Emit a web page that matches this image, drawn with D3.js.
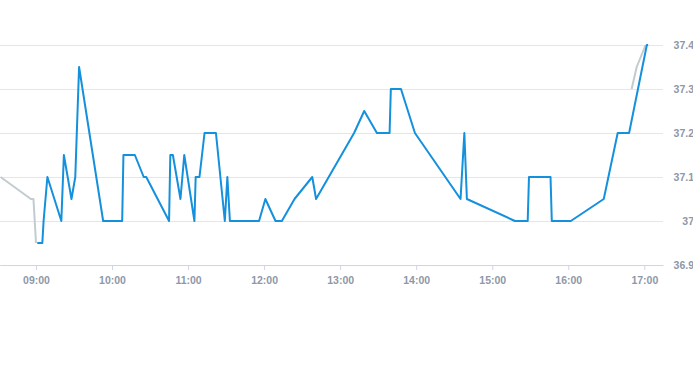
<html>
  <head>
    <meta charset="utf-8" />
    <script src="https://d3js.org/d3.v7.min.js"></script>
  </head>
  <style>
    body { margin: 0; background: #fff; }
    svg { display: block; }
    .lbl text { font-family: "Liberation Sans", Arial, sans-serif; font-size: 10.5px; font-weight: bold; fill: #8e98a8; }
  </style>
  <body>
    <div id="viz"><svg width="693" height="365"></svg></div>
    <script>
      // temperature readings (blue), and previous readings (gray) around the edges
      var blueTimes = ["09:01","09:05","09:06","09:09","09:20","09:22","09:28","09:31","09:34","09:53",
        "10:08","10:09","10:18","10:25","10:27","10:45","10:46","10:48","10:54","10:57",
        "11:05","11:06","11:09","11:13","11:22","11:29","11:31","11:33","11:56","12:01",
        "12:09","12:14","12:24","12:38","12:41","13:11","13:19","13:29","13:39","13:40",
        "13:48","13:59","14:35","14:38","14:40","15:18","15:28","15:29","15:46","15:47",
        "16:02","16:28","16:39","16:48","17:02","17:03"];
      var blueValues = [36.95,36.95,37.0,37.1,37.0,37.15,37.05,37.1,37.35,37.0,
        37.0,37.15,37.15,37.1,37.1,37.0,37.15,37.15,37.05,37.15,
        37.0,37.1,37.1,37.2,37.2,37.0,37.1,37.0,37.0,37.05,
        37.0,37.0,37.05,37.1,37.05,37.2,37.25,37.2,37.2,37.3,
        37.3,37.2,37.05,37.2,37.05,37.0,37.0,37.1,37.1,37.0,
        37.0,37.05,37.2,37.2,37.4,37.4];
      var grayStartTimes = ["08:32","08:56","08:58","09:00"];
      var grayStartValues = [37.1,37.05,37.05,36.95];
      var grayEndTimes = ["16:50","16:54","17:01"];
      var grayEndValues = [37.3,37.35,37.4];
      var hourTicks = ["09:00","10:00","11:00","12:00","13:00","14:00","15:00","16:00","17:00"];
      var yTicks = [36.9, 37, 37.1, 37.2, 37.3, 37.4];

      var parse = d3.timeParse("%H:%M");
      var svg = d3.select("svg");

      var x = d3.scaleTime()
        .domain([d3.timeParse("%H:%M:%S")("08:31:36"), d3.timeParse("%H:%M:%S")("17:14:45")])
        .range([0, 663]);
      var y = d3.scaleLinear().domain([36.9, 37.4]).range([265, 45]);

      // grid
      var grid = svg.append("g")
        .call(d3.axisLeft(y).tickValues(yTicks).tickSize(-663).tickFormat(""));
      grid.select(".domain").remove();
      grid.selectAll("line").attr("stroke", "#e3e6ea");

      // y labels on the right
      var yAxis = svg.append("g").attr("class", "lbl")
        .attr("transform", "translate(694,0)")
        .call(d3.axisLeft(y).tickValues(yTicks).tickSize(0).tickPadding(0)
          .tickFormat(function (d) { return d3.format("")(+d.toFixed(1)); }));
      yAxis.select(".domain").remove();

      // x axis
      var xAxis = svg.append("g").attr("class", "lbl")
        .attr("transform", "translate(0,265)")
        .call(d3.axisBottom(x).tickValues(hourTicks.map(parse)).tickSize(5).tickSizeOuter(0)
          .tickPadding(7).tickFormat(d3.timeFormat("%H:%M")));
      xAxis.selectAll("line, .domain").attr("stroke", "#ccd6eb");

      svg.append("clipPath").attr("id", "clip")
        .append("rect").attr("width", 663).attr("height", 365);

      function series(times, values) {
        return times.map(function (t, i) { return [parse(t), values[i]]; });
      }
      var line = d3.line()
        .x(function (d) { return x(d[0]); })
        .y(function (d) { return y(d[1]); });

      var plot = svg.append("g").attr("clip-path", "url(#clip)");
      [series(grayStartTimes, grayStartValues), series(grayEndTimes, grayEndValues)].forEach(function (s) {
        plot.append("path").datum(s).attr("d", line)
          .attr("fill", "none").attr("stroke", "#c2cbd0").attr("stroke-width", 2)
          .attr("stroke-linejoin", "round");
      });
      plot.append("path").datum(series(blueTimes, blueValues)).attr("d", line)
        .attr("fill", "none").attr("stroke", "#1490dc").attr("stroke-width", 2)
        .attr("stroke-linejoin", "round");
    </script>
  </body>
</html>
